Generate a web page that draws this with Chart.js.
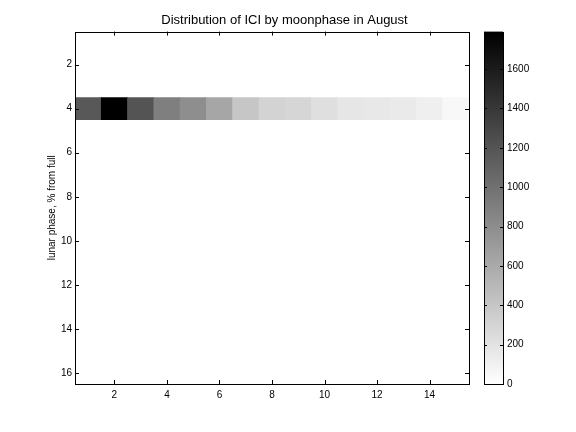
<!DOCTYPE html>
<html>
<head>
<meta charset="utf-8">
<title>Distribution of ICI by moonphase in August</title>
<script src="https://cdn.jsdelivr.net/npm/chart.js@4"></script>
<style>
  html, body { margin: 0; padding: 0; background: #fff; }
  #chart { display: block; }
</style>
</head>
<body>
<canvas id="chart" width="576" height="432"></canvas>
<script>
'use strict';

// ICI bins along x, counts for the only non-empty moonphase row
const iciBins = [1, 2, 3, 4, 5, 6, 7, 8, 9, 10, 11, 12, 13, 14, 15];
const phaseRow = 4;
const counts = [1170, 1790, 1200, 898, 793, 625, 400, 309, 288, 224, 175, 161, 147, 112, 49];

const xTicks = [2, 4, 6, 8, 10, 12, 14];
const yTicks = [2, 4, 6, 8, 10, 12, 14, 16];
const colorTicks = [0, 200, 400, 600, 800, 1000, 1200, 1400, 1600];
const colorMax = 1790;

const FONT = 'Liberation Sans, Arial, Helvetica, sans-serif';

function grayFor(value) {
  const g = Math.round(255 * (1 - Math.min(value, colorMax) / colorMax));
  return `rgb(${g},${g},${g})`;
}

function setTicks(values) {
  return (scale) => {
    scale.ticks = values.map((value) => ({ value }));
  };
}

// fixed axis sizes, no extra label overflow padding
function fixSize(width, height) {
  return (s) => {
    if (width != null) s.width = width;
    if (height != null) s.height = height;
    s.paddingTop = 0;
    s.paddingBottom = 0;
    s.paddingLeft = 0;
    s.paddingRight = 0;
  };
}

// box around axes + inward ticks, and the colorbar drawn against y2
const matlabAxes = {
  id: 'matlabAxes',
  afterDraw(chart) {
    const { ctx, chartArea: a, scales } = chart;
    const len = 4;
    ctx.save();
    ctx.strokeStyle = '#000';
    ctx.lineWidth = 1;

    ctx.strokeRect(Math.round(a.left) + 0.5, Math.round(a.top) + 0.5,
      Math.round(a.right - a.left), Math.round(a.bottom - a.top));

    ctx.beginPath();
    for (const v of xTicks) {
      const px = Math.round(scales.x.getPixelForValue(v)) + 0.5;
      ctx.moveTo(px, a.bottom); ctx.lineTo(px, a.bottom - len);
      ctx.moveTo(px, a.top); ctx.lineTo(px, a.top + len);
    }
    for (const v of yTicks) {
      const py = Math.round(scales.y.getPixelForValue(v)) + 0.5;
      ctx.moveTo(a.left, py); ctx.lineTo(a.left + len, py);
      ctx.moveTo(a.right, py); ctx.lineTo(a.right - len, py);
    }
    ctx.stroke();

    // colorbar
    const cb = scales.y2;
    const left = 484;
    const right = 503;
    const top = cb.getPixelForValue(colorMax);
    const bottom = cb.getPixelForValue(0);
    const grad = ctx.createLinearGradient(0, bottom, 0, top);
    grad.addColorStop(0, '#ffffff');
    grad.addColorStop(1, '#000000');
    ctx.fillStyle = grad;
    ctx.fillRect(left, top, right - left, bottom - top);
    ctx.strokeRect(left + 0.5, Math.round(top) + 0.5, right - left, Math.round(bottom - top));

    ctx.beginPath();
    for (const v of colorTicks) {
      const py = Math.round(cb.getPixelForValue(v)) + 0.5;
      ctx.moveTo(left, py); ctx.lineTo(left + 3, py);
      ctx.moveTo(right, py); ctx.lineTo(right - 3, py);
    }
    ctx.stroke();
    ctx.restore();
  }
};

const tickFont = { family: FONT, size: 10 };

new Chart(document.getElementById('chart'), {
  type: 'bar',
  data: {
    datasets: [{
      label: 'ICI count',
      data: iciBins.map((x) => ({ x, y: [phaseRow - 0.5, phaseRow + 0.5] })),
      backgroundColor: counts.map(grayFor),
      borderWidth: 0,
      barPercentage: 1,
      categoryPercentage: 1,
      yAxisID: 'y'
    }]
  },
  plugins: [matlabAxes],
  options: {
    responsive: false,
    animation: false,
    layout: { padding: { left: 0, right: 7, top: 0, bottom: 0 } },
    plugins: {
      legend: { display: false },
      tooltip: { enabled: false },
      title: {
        display: true,
        text: 'Distribution of ICI by moonphase in August',
        color: '#000',
        font: { family: FONT, size: 13, weight: 'normal' },
        padding: { top: 13, bottom: 3 }
      }
    },
    scales: {
      x: {
        type: 'linear',
        offset: false,
        min: 0.5,
        max: 15.5,
        afterBuildTicks: setTicks(xTicks),
        afterFit: fixSize(null, 48),
        grid: { display: false, drawTicks: false },
        border: { display: false },
        ticks: { color: '#000', font: tickFont, padding: 5, maxRotation: 0 }
      },
      y: {
        type: 'linear',
        position: 'left',
        reverse: true,
        min: 0.5,
        max: 16.5,
        afterBuildTicks: setTicks(yTicks),
        afterFit: fixSize(75, null),
        grid: { display: false, drawTicks: false },
        border: { display: false },
        ticks: { color: '#000', font: tickFont, padding: 3 },
        title: {
          display: true,
          text: 'lunar phase, % from full',
          color: '#000',
          font: { family: FONT, size: 10 },
          padding: { top: 46, bottom: 0 }
        }
      },
      y2: {
        type: 'linear',
        position: 'right',
        min: 0,
        max: colorMax,
        afterBuildTicks: setTicks(colorTicks),
        afterFit: fixSize(100, null),
        grid: { display: false, drawTicks: false },
        border: { display: false },
        ticks: { color: '#000', font: tickFont, padding: 38, callback: (v) => String(v) }
      }
    }
  }
});
</script>
</body>
</html>
